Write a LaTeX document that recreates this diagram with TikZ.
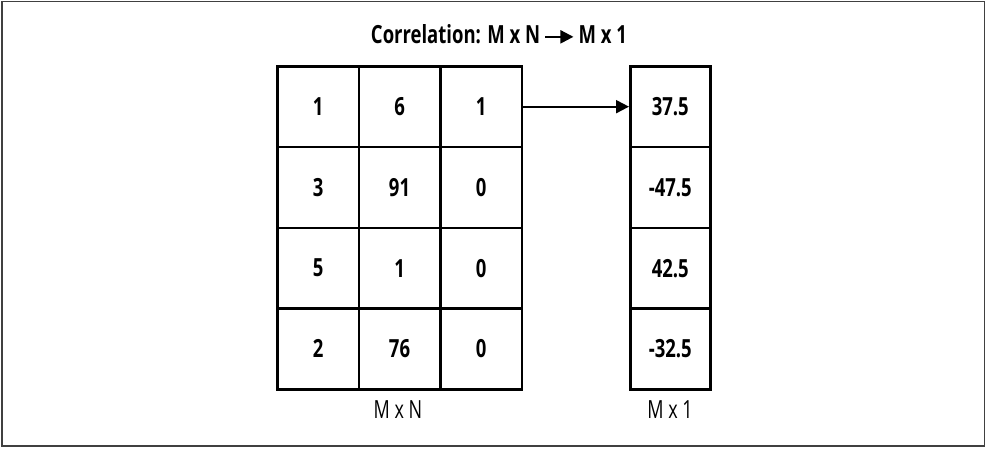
\documentclass[tikz,border=0pt]{standalone}
\usepackage{fontspec}
\setmainfont{Open Sans}[FakeStretch=0.74]
\newfontfamily\labelfont{Open Sans}[FakeStretch=0.72]
\usetikzlibrary{arrows.meta}
\newcommand{\titlearrow}{\tikz[baseline=-6.5pt]\draw[line width=2.2pt,-{Triangle[length=13pt,width=13pt]}] (0,0) -- (28pt,0);}
\begin{document}
\begin{tikzpicture}[x=1pt,y=-1pt,
  cell/.style={draw=black,line width=2.6pt,minimum width=81.5pt,minimum height=80.75pt,inner sep=0pt,anchor=north west,
    font=\fontsize{25}{28}\selectfont\bfseries},
  lab/.style={font=\labelfont\fontsize{25}{28}\selectfont},
  conn/.style={line width=2pt,-{Triangle[length=13pt,width=13pt]}}]
\useasboundingbox (0,0) rectangle (988,450);
\draw[line width=1.5pt,draw=black!75] (2,1.5) rectangle (984.5,446);
\node[font=\fontsize{25}{30}\selectfont\bfseries] (title) at (499,34) {Correlation: M x N\,\titlearrow\,M x 1};
% left matrix
\foreach \r/\a/\b/\c [count=\i from 0] in {1/1/6/1,2/3/91/0,3/5/1/0,4/2/76/0}{
  \node[cell] (a\r1) at (276,65+80.75*\i) {\a};
  \node[cell] (a\r2) at (357.5,65+80.75*\i) {\b};
  \node[cell] (a\r3) at (439,65+80.75*\i) {\c};
}
\foreach \r/\v [count=\i from 0] in {1/37.5,2/-47.5,3/42.5,4/-32.5}{
  \node[cell,minimum width=80pt] (b\r) at (629,65+80.75*\i) {\v};
}
\node[lab] (lmn) at (398,410) {M x N};
\node[lab] (lm1) at (670,410) {M x 1};
\draw[conn] (a13.east) -- (b1.west);
\end{tikzpicture}
\end{document}
